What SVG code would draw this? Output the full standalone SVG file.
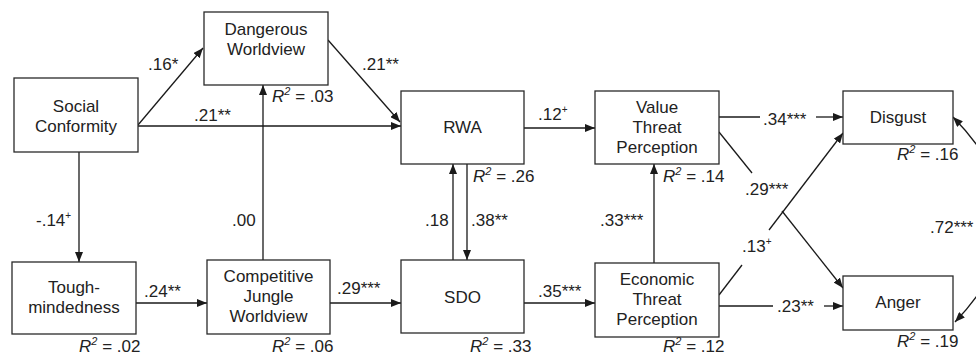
<svg xmlns="http://www.w3.org/2000/svg" width="976" height="355" viewBox="0 0 976 355">
<defs>
<marker id="ah" markerUnits="userSpaceOnUse" markerWidth="10" markerHeight="8" refX="10" refY="4" orient="auto">
<path d="M0,0 L10,4 L0,8 z" fill="#1a1a1a"/>
</marker>
<style>
.box{fill:#fff;stroke:#2a2a2a;stroke-width:1.3}
.t{font-family:"Liberation Sans",Arial,sans-serif;font-size:17px;fill:#222;text-anchor:middle}
.l{font-family:"Liberation Sans",Arial,sans-serif;font-size:17px;fill:#222}
.r{font-family:"Liberation Sans",Arial,sans-serif;font-size:17px;fill:#222}
.e{fill:none;stroke:#1a1a1a;stroke-width:1.3}
.a{marker-end:url(#ah)}
</style>
</defs>
<rect width="976" height="355" fill="#fff"/>
<g id="connectors">
<path class="e a" d="M138,125 L203,48"/>
<path class="e a" d="M138,126 L401,126"/>
<path class="e a" d="M328,40 L400,122"/>
<path class="e a" d="M79,152 L79,262"/>
<path class="e a" d="M136,303 L207,303"/>
<path class="e a" d="M263,260 L263,85"/>
<path class="e a" d="M330,303 L401,303"/>
<path class="e a" d="M453,260 L453,164"/>
<path class="e a" d="M467,164 L467,260"/>
<path class="e a" d="M524,128 L595,128"/>
<path class="e a" d="M524,303 L595,303"/>
<path class="e a" d="M654,263 L654,164"/>
<path class="e" d="M719,117 L760,117"/>
<path class="e a" d="M816,117 L843,117"/>
<path class="e" d="M719,132 L752,173"/>
<path class="e a" d="M782,211 L843,288"/>
<path class="e" d="M719,295 L742,265"/>
<path class="e a" d="M769,230 L843,133"/>
<path class="e" d="M719,306 L773,306"/>
<path class="e a" d="M824,306 L843,306"/>
<path class="e a" d="M1005,220 Q1003,168 953,117"/>
<path class="e a" d="M1005,220 Q1003,272 955,322"/>
</g>
<g id="social-conformity">
<rect class="box" x="14" y="78" width="124" height="74"/>
<text class="t" x="76" y="112">Social</text>
<text class="t" x="76" y="132">Conformity</text>
</g>
<g id="dangerous-worldview">
<rect class="box" x="204" y="12" width="124" height="73"/>
<text class="t" x="266" y="35">Dangerous</text>
<text class="t" x="266" y="55">Worldview</text>
<text class="r" x="272" y="102"><tspan font-style="italic">R</tspan><tspan font-size="11" dy="-7" font-style="italic">2</tspan><tspan dy="7"> = .03</tspan></text>
</g>
<g id="rwa">
<rect class="box" x="401" y="91" width="123" height="73"/>
<text class="t" x="462.5" y="133">RWA</text>
<text class="r" x="473" y="182"><tspan font-style="italic">R</tspan><tspan font-size="11" dy="-7" font-style="italic">2</tspan><tspan dy="7"> = .26</tspan></text>
</g>
<g id="value-threat">
<rect class="box" x="595" y="91" width="124" height="73"/>
<text class="t" x="657" y="113">Value</text>
<text class="t" x="657" y="133">Threat</text>
<text class="t" x="657" y="153">Perception</text>
<text class="r" x="663" y="182"><tspan font-style="italic">R</tspan><tspan font-size="11" dy="-7" font-style="italic">2</tspan><tspan dy="7"> = .14</tspan></text>
</g>
<g id="disgust">
<rect class="box" x="843" y="91" width="110" height="53"/>
<text class="t" x="898" y="123">Disgust</text>
<text class="r" x="897" y="160"><tspan font-style="italic">R</tspan><tspan font-size="11" dy="-7" font-style="italic">2</tspan><tspan dy="7"> = .16</tspan></text>
</g>
<g id="tough-mindedness">
<rect class="box" x="12" y="262" width="124" height="72"/>
<text class="t" x="74" y="293">Tough-</text>
<text class="t" x="74" y="313">mindedness</text>
<text class="r" x="79" y="352"><tspan font-style="italic">R</tspan><tspan font-size="11" dy="-7" font-style="italic">2</tspan><tspan dy="7"> = .02</tspan></text>
</g>
<g id="competitive-jungle">
<rect class="box" x="207" y="260" width="123" height="74"/>
<text class="t" x="268.5" y="282">Competitive</text>
<text class="t" x="268.5" y="302">Jungle</text>
<text class="t" x="268.5" y="322">Worldview</text>
<text class="r" x="272" y="352"><tspan font-style="italic">R</tspan><tspan font-size="11" dy="-7" font-style="italic">2</tspan><tspan dy="7"> = .06</tspan></text>
</g>
<g id="sdo">
<rect class="box" x="401" y="260" width="123" height="73"/>
<text class="t" x="462.5" y="303">SDO</text>
<text class="r" x="470" y="352"><tspan font-style="italic">R</tspan><tspan font-size="11" dy="-7" font-style="italic">2</tspan><tspan dy="7"> = .33</tspan></text>
</g>
<g id="economic-threat">
<rect class="box" x="595" y="263" width="124" height="74"/>
<text class="t" x="657" y="285">Economic</text>
<text class="t" x="657" y="305">Threat</text>
<text class="t" x="657" y="325">Perception</text>
<text class="r" x="663" y="352"><tspan font-style="italic">R</tspan><tspan font-size="11" dy="-7" font-style="italic">2</tspan><tspan dy="7"> = .12</tspan></text>
</g>
<g id="anger">
<rect class="box" x="843" y="276" width="110" height="54"/>
<text class="t" x="898" y="308">Anger</text>
<text class="r" x="897" y="347"><tspan font-style="italic">R</tspan><tspan font-size="11" dy="-7" font-style="italic">2</tspan><tspan dy="7"> = .19</tspan></text>
</g>
<g id="labels">
<text class="l" x="148" y="70">.16*</text>
<text class="l" x="194" y="121">.21**</text>
<text class="l" x="362" y="70">.21**</text>
<text class="l" x="36" y="226">-.14<tspan font-size="10" dy="-7">+</tspan></text>
<text class="l" x="232" y="226">.00</text>
<text class="l" x="144" y="297">.24**</text>
<text class="l" x="337" y="294">.29***</text>
<text class="l" x="425" y="226">.18</text>
<text class="l" x="471" y="226">.38**</text>
<text class="l" x="538" y="120">.12<tspan font-size="10" dy="-7">+</tspan></text>
<text class="l" x="538" y="297">.35***</text>
<text class="l" x="600" y="226">.33***</text>
<text class="l" x="763" y="125">.34***</text>
<text class="l" x="745" y="195">.29***</text>
<text class="l" x="742" y="252">.13<tspan font-size="10" dy="-7">+</tspan></text>
<text class="l" x="777" y="312">.23**</text>
<text class="l" x="930" y="233">.72***</text>
</g>
</svg>
